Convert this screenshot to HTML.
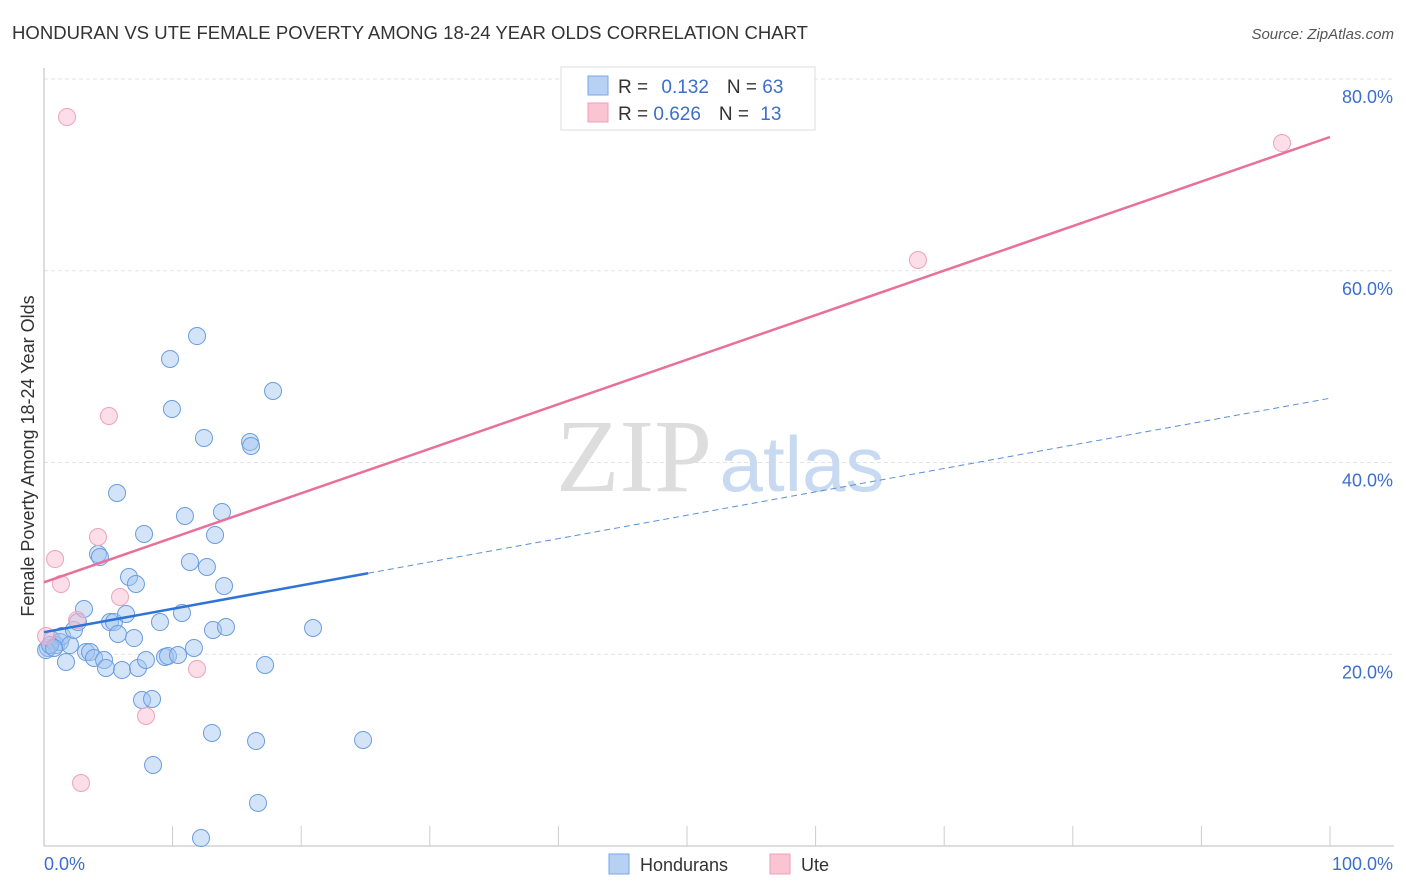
<!DOCTYPE html>
<html><head><meta charset="utf-8"><style>
body{margin:0;background:#fff;font-family:"Liberation Sans",sans-serif}
svg{display:block}
</style></head><body>
<svg width="1406" height="892" xmlns="http://www.w3.org/2000/svg">
<text x="12" y="39" font-size="18" fill="#333" textLength="796" lengthAdjust="spacingAndGlyphs">HONDURAN VS UTE FEMALE POVERTY AMONG 18-24 YEAR OLDS CORRELATION CHART</text>
<text x="1394" y="39" font-size="15" fill="#555" font-style="italic" text-anchor="end">Source: ZipAtlas.com</text>
<g id="grid"></g>
<text x="634" y="491" font-size="104" fill="#ddd" font-family="Liberation Serif,serif" text-anchor="middle">ZIP</text>
<text x="802" y="491" font-size="78" fill="#c8daf2" text-anchor="middle">atlas</text>
<g id="marks"></g>
<text transform="translate(34,456) rotate(-90)" font-size="18" fill="#333" text-anchor="middle">Female Poverty Among 18-24 Year Olds</text>
<g>
<rect x="561" y="67" width="254" height="63" fill="#fff" stroke="#ddd"/>
<rect x="588" y="76" width="20" height="19" fill="#b7d1f4" stroke="#7aa6e6"/>
<rect x="588" y="103" width="20" height="19" fill="#fac4d3" stroke="#ee9fb8"/>
<text x="618" y="93" font-size="19" fill="#333">R = <tspan fill="#3b6fcc" dx="8">0.132</tspan><tspan dx="18" fill="#333">N = </tspan><tspan fill="#3b6fcc">63</tspan></text>
<text x="618" y="120" font-size="19" fill="#333">R = <tspan fill="#3b6fcc">0.626</tspan><tspan dx="18" fill="#333">N = </tspan><tspan fill="#3b6fcc" dx="6">13</tspan></text>
</g>
<g>
<rect x="609" y="854" width="20" height="20" fill="#b7d1f4" stroke="#7aa6e6"/>
<text x="640" y="871" font-size="18" fill="#333">Hondurans</text>
<rect x="770" y="854" width="20" height="20" fill="#fac4d3" stroke="#ee9fb8"/>
<text x="801" y="871" font-size="18" fill="#333">Ute</text>
</g>
</svg>
<script>
const yTicks=[20,40,60,80];
const yTickLabels=["20.0%","40.0%","60.0%","80.0%"];
const xTickValues=[10,20,30,40,50,60,70,80,90,100];
const hondX=[0.31,0.62,0.93,1.24,1.40,1.71,2.02,2.33,2.64,3.11,3.27,3.58,3.89,4.20,4.35,4.67,4.82,5.13,5.44,5.68,5.75,6.07,6.38,6.61,7.00,7.15,7.31,7.62,7.78,7.93,8.40,8.48,9.02,9.41,9.64,9.80,9.95,10.42,10.73,10.96,11.35,11.66,11.90,12.21,12.44,12.67,13.06,13.14,13.30,13.84,14.00,14.15,16.02,16.10,16.49,16.64,17.19,17.81,20.92,24.81,0.16,0.47,0.78];
const hondY=[20.65,21.49,20.96,21.28,21.90,19.19,20.96,22.53,23.36,24.72,20.23,20.23,19.61,30.46,30.14,19.40,18.57,23.36,23.36,36.82,22.11,18.36,24.20,28.06,21.69,27.33,18.57,15.23,32.54,19.40,15.33,8.45,23.36,19.71,19.82,50.80,45.58,19.92,24.30,34.42,29.62,20.65,53.19,0.83,42.56,29.10,11.79,22.53,32.44,34.84,27.12,22.84,42.14,41.72,10.95,4.49,18.88,47.46,22.74,11.06,20.44,20.96,20.65];
const uteX=[1.79,96.27,67.96,5.05,4.20,0.86,1.32,5.91,2.57,11.90,7.93,2.88,0.16];
const uteY=[76.04,73.32,61.12,44.85,32.23,29.93,27.33,25.97,23.57,18.46,13.56,6.57,21.90];
const pinkLine=[27.5,73.95];
const blueLine=[22.3,46.7];
const blueSolidEnd=25.2;

const X0=44,X1=1330,Y0=846,Y80=79;
const xs=v=>X0+v*(X1-X0)/100;
const ys=v=>Y0-v*(Y0-Y80)/80;
const NS="http://www.w3.org/2000/svg";
function mk(tag,attrs,parent){const e=document.createElementNS(NS,tag);for(const k in attrs)e.setAttribute(k,attrs[k]);parent.appendChild(e);return e;}
const grid=document.getElementById('grid'),marks=document.getElementById('marks');
yTicks.forEach((t,i)=>{
 let l=mk('line',{x1:44,x2:1394,y1:ys(t),y2:ys(t),stroke:'#e3e3e3','stroke-dasharray':'4,3'},grid);
 
 
 let tx=mk('text',{x:1393,y:ys(t)+24,'font-size':18,fill:'#3b6fcc','text-anchor':'end'},grid);
 tx.textContent=yTickLabels[i];
 
 
});
let ax=mk('line',{x1:44,x2:44,y1:68,y2:846,stroke:'#bbb'},grid);


let bx=mk('line',{x1:44,x2:1394,y1:846,y2:846,stroke:'#bbb'},grid);


xTickValues.forEach(t=>{
 let l=mk('line',{x1:xs(t),x2:xs(t),y1:826,y2:846,stroke:'#ccc'},grid);
 
 
});
let xl0=mk('text',{x:44,y:870,'font-size':18,fill:'#3b6fcc'},grid);xl0.textContent='0.0%';


let xl1=mk('text',{x:1393,y:870,'font-size':18,fill:'#3b6fcc','text-anchor':'end'},grid);xl1.textContent='100.0%';



hondX.forEach((v,i)=>{
 let c=mk('circle',{cx:xs(v),cy:ys(hondY[i]),r:8.5,fill:'rgba(160,196,240,0.45)',stroke:'#6a9de0','stroke-width':1},marks);
 
 
});
uteX.forEach((v,i)=>{
 let c=mk('circle',{cx:xs(v),cy:ys(uteY[i]),r:8.5,fill:'rgba(248,190,208,0.5)',stroke:'#eea3bb','stroke-width':1},marks);
 
 
});
const by=v=>blueLine[0]+(blueLine[1]-blueLine[0])*v/100;
let bl=mk('line',{x1:xs(0),y1:ys(blueLine[0]),x2:xs(blueSolidEnd),y2:ys(by(blueSolidEnd)),stroke:'#2f73d6','stroke-width':2.5},marks);


let bd=mk('line',{x1:xs(blueSolidEnd),y1:ys(by(blueSolidEnd)),x2:xs(100),y2:ys(blueLine[1]),stroke:'#5b8fd9','stroke-width':1,'stroke-dasharray':'6,4'},marks);


let pl=mk('line',{x1:xs(0),y1:ys(pinkLine[0]),x2:xs(100),y2:ys(pinkLine[1]),stroke:'#e8709a','stroke-width':2.5},marks);


</script>
</body></html>
